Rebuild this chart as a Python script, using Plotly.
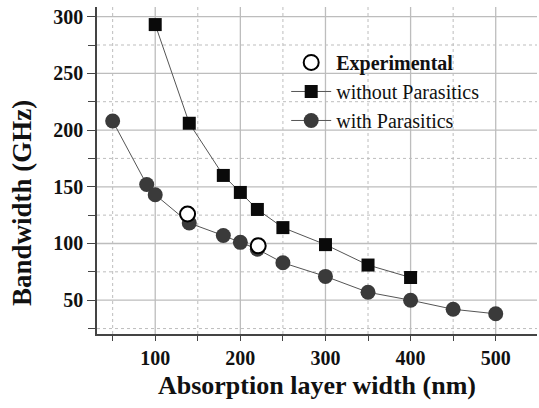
import plotly.graph_objects as go

# Data
x_without = [100, 140, 180, 200, 220, 250, 300, 350, 400]
y_without = [293, 206, 160, 145, 130, 114, 99, 81, 70]

x_with = [50, 90, 100, 140, 180, 200, 220, 250, 300, 350, 400, 450, 500]
y_with = [208, 152, 143, 118, 107, 101, 95, 83, 71, 57, 50, 42, 38]

x_exp = [138, 221]
y_exp = [126, 98]

x_ticks = [100, 200, 300, 400, 500]
x_minor = [50, 150, 250, 350, 450]
y_ticks = [50, 100, 150, 200, 250, 300]
y_minor = [25, 75, 125, 175, 225, 275]

FONT = "Liberation Serif, Times New Roman, serif"
GRID = "#bdbdbd"

fig = go.Figure()
fig.add_trace(go.Scatter(
    x=x_without, y=y_without, mode="lines+markers", name="without Parasitics",
    line=dict(color="#555555", width=1),
    marker=dict(symbol="square", size=13, color="#0a0a0a"),
    legendrank=2,
))
fig.add_trace(go.Scatter(
    x=x_with, y=y_with, mode="lines+markers", name="with Parasitics",
    line=dict(color="#555555", width=1),
    marker=dict(symbol="circle", size=15, color="#3a3a3a"),
    legendrank=3,
))
fig.add_trace(go.Scatter(
    x=x_exp, y=y_exp, mode="markers", name="<b>Experimental</b>",
    marker=dict(symbol="circle", size=15, color="white",
                line=dict(color="#000000", width=2)),
    legendrank=1,
))

# grid lines (major solid, minor dotted) drawn from the tick arrays
for v in x_ticks:
    fig.add_vline(x=v, line=dict(color=GRID, width=1.3), layer="below")
for v in x_minor:
    fig.add_vline(x=v, line=dict(color=GRID, width=1, dash="dot"), layer="below")
for v in y_ticks:
    fig.add_hline(y=v, line=dict(color=GRID, width=1.3), layer="below")
for v in y_minor:
    fig.add_hline(y=v, line=dict(color=GRID, width=1, dash="dot"), layer="below")

fig.update_layout(
    width=539, height=408,
    margin=dict(l=97, r=2, t=7, b=74),
    paper_bgcolor="white", plot_bgcolor="white",
    font=dict(family=FONT, color="#111111"),
    showlegend=True,
    legend=dict(x=0.43, y=0.89, xanchor="left", yanchor="top",
                bgcolor="rgba(0,0,0,0)", font=dict(size=20, family=FONT),
                itemwidth=40, tracegroupgap=0),
    annotations=[dict(
        text="<b>Bandwidth (GHz)</b>", textangle=-90,
        xref="paper", yref="paper", x=-(97 - 22) / 440, y=(334 - 203) / 327,
        xanchor="center", yanchor="middle", showarrow=False,
        font=dict(size=27, family=FONT, color="#111111"),
    )],
)
fig.update_xaxes(
    range=[31.6, 548.5], tickmode="array", tickvals=x_ticks,
    tickfont=dict(size=20, family=FONT, color="#111", weight="bold"),
    title=dict(text="<b>Absorption layer width (nm)</b>", font=dict(size=26, family=FONT), standoff=8),
    showline=True, linecolor="#444", linewidth=1.5,
    ticks="outside", ticklen=5, tickcolor="#444",
    showgrid=False,
    minor=dict(tickmode="array", tickvals=x_minor, ticks="outside", ticklen=5,
               tickcolor="#444", showgrid=False),
    zeroline=False, mirror=False,
)
fig.update_yaxes(
    range=[20.2, 308.5], tickmode="array", tickvals=y_ticks,
    tickfont=dict(size=20, family=FONT, color="#111", weight="bold"),
    showline=True, linecolor="#444", linewidth=1.5,
    ticks="outside", ticklen=8, tickcolor="#444",
    showgrid=False,
    minor=dict(tickmode="array", tickvals=y_minor, ticks="outside", ticklen=7,
               tickcolor="#444", showgrid=False),
    zeroline=False, mirror=False,
)

fig.write_html("out.html")
